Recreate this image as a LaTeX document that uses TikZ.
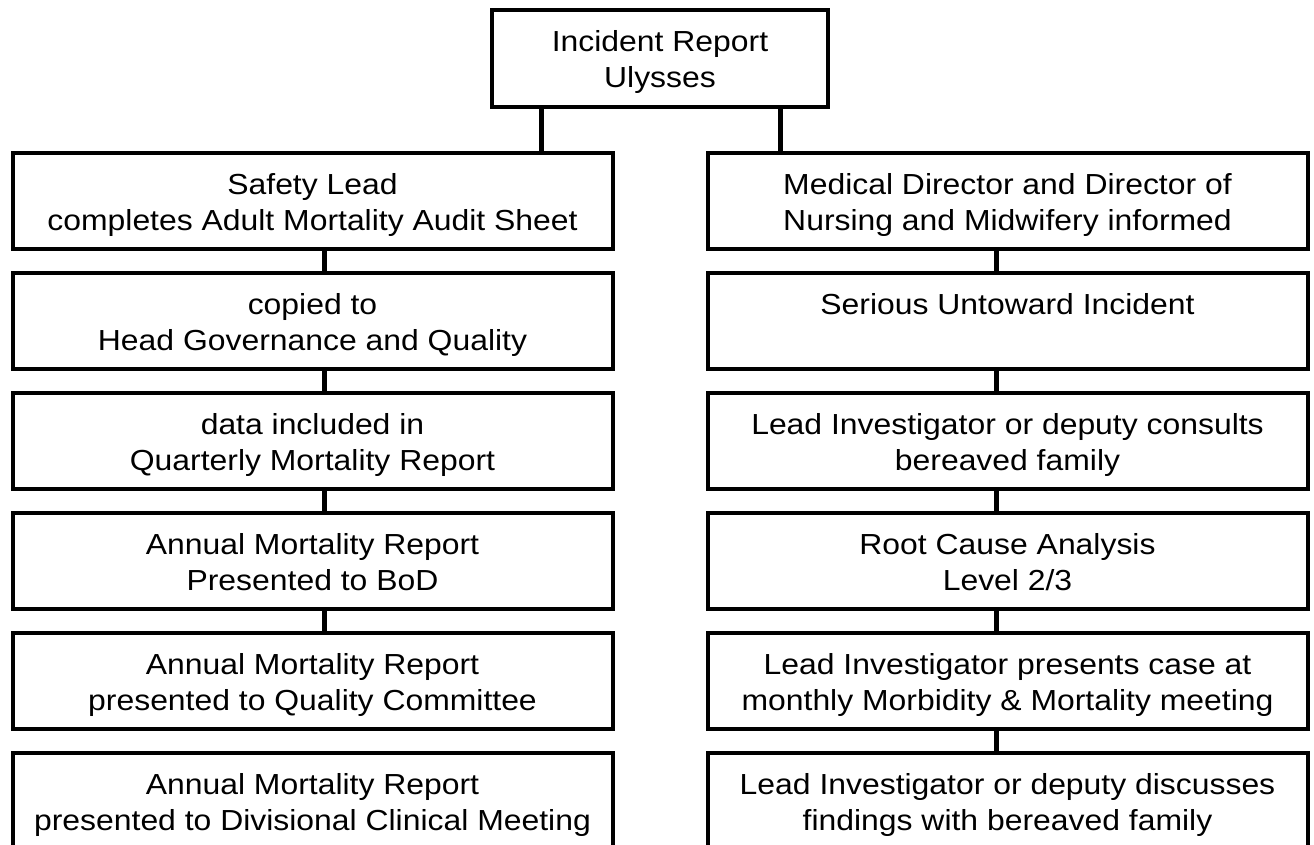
\documentclass[tikz,border=0pt]{standalone}
\usepackage{fontspec}
\setmainfont{Liberation Sans}[FakeStretch=1.1]
\newcommand{\twolines}[2]{\rule{0pt}{30pt}#1\\#2\rule[-7pt]{0pt}{0pt}}
\begin{document}
\begin{tikzpicture}[x=1pt,y=-1pt,
  box/.style={draw, line width=4pt, minimum width=600pt, minimum height=96pt,
    align=center, inner sep=0pt, font=\fontsize{29}{36}\selectfont},
  link/.style={line width=5pt}]
\useasboundingbox (0,0) rectangle (1314,845);
\clip (0,0) rectangle (1314,845);
% top
\node[box, minimum width=336pt, minimum height=97pt] (T) at (660,58.5) {\twolines{Incident Report}{Ulysses}};
% left column
\node[box] (L0) at (312.5,201) {\twolines{Safety Lead}{completes Adult Mortality Audit Sheet}};
\node[box] (L1) at (312.5,321) {\twolines{copied to}{Head Governance and Quality}};
\node[box] (L2) at (312.5,441) {\twolines{data included in}{Quarterly Mortality Report}};
\node[box] (L3) at (312.5,561) {\twolines{Annual Mortality Report}{Presented to BoD}};
\node[box] (L4) at (312.5,681) {\twolines{Annual Mortality Report}{presented to Quality Committee}};
\node[box] (L5) at (312.5,801) {\twolines{Annual Mortality Report}{presented to Divisional Clinical Meeting}};
% right column
\node[box] (R0) at (1007.5,201) {\twolines{Medical Director and Director of}{Nursing and Midwifery informed}};
\node[box] (R1) at (1007.5,321) {\twolines{Serious Untoward Incident}{}};
\node[box] (R2) at (1007.5,441) {\twolines{Lead Investigator or deputy consults}{bereaved family}};
\node[box] (R3) at (1007.5,561) {\twolines{Root Cause Analysis}{Level 2/3}};
\node[box] (R4) at (1007.5,681) {\twolines{Lead Investigator presents case at}{monthly Morbidity \& Mortality meeting}};
\node[box] (R5) at (1007.5,801) {\twolines{Lead Investigator or deputy discusses}{findings with bereaved family}};
% connector columns
\coordinate (ta) at (541,0);
\coordinate (tb) at (780,0);
\coordinate (cl) at (324,0);
\coordinate (cr) at (996,0);
\draw[link] (T.south -| ta) -- (L0.north -| ta);
\draw[link] (T.south -| tb) -- (R0.north -| tb);
\foreach \a/\b in {L0/L1,L1/L2,L2/L3,L3/L4}
  \draw[link] (\a.south -| cl) -- (\b.north -| cl);
\foreach \a/\b in {R0/R1,R1/R2,R2/R3,R3/R4,R4/R5}
  \draw[link] (\a.south -| cr) -- (\b.north -| cr);
\end{tikzpicture}
\end{document}
